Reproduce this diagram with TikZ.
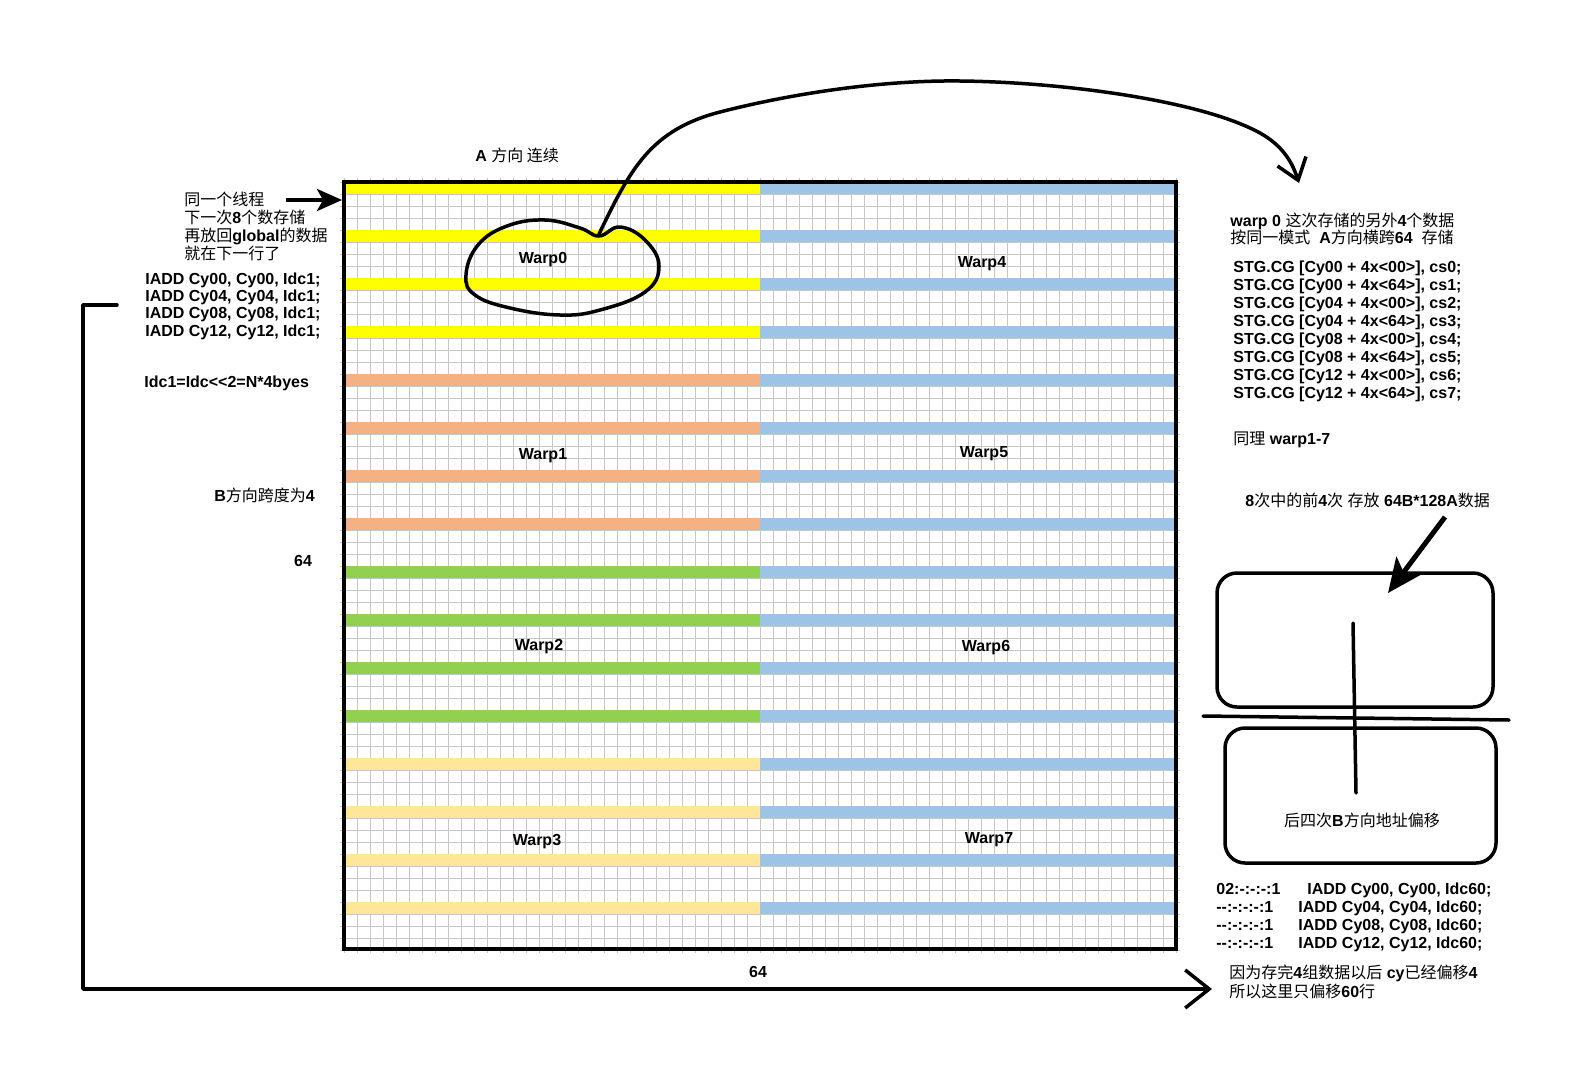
\documentclass[tikz,border=0pt]{standalone}
\usepackage{fontspec}
\setmainfont{Liberation Sans}[Ligatures=TeXOff]
\newfontfamily\cjk{Noto Sans CJK SC}
\newcommand\zh[1]{{\cjk\mdseries #1}}
\usetikzlibrary{arrows.meta,positioning}

\definecolor{warpyellow}{HTML}{FFFF00}
\definecolor{warpsalmon}{HTML}{F4B183}
\definecolor{warpgreen}{HTML}{92D050}
\definecolor{warpcream}{HTML}{FFE699}
\definecolor{warpblue}{HTML}{9DC3E6}
\definecolor{gridgray}{HTML}{C6C6C6}

\tikzset{
  txt/.style={font=\bfseries\fontsize{8}{9}\selectfont, inner sep=0pt, anchor=base west, align=left},
  warp/.style={font=\bfseries\fontsize{8}{9}\selectfont, inner sep=0pt, anchor=base},
  gridline/.style={draw=gridgray, line width=0.5pt},
  pen/.style={line width=1.75pt, line cap=round, line join=round},
  slot/.style={draw, pen, rounded corners=10pt, inner sep=0pt},
}

\begin{document}
\begin{tikzpicture}[x=0.5pt,y=-0.5pt]
\useasboundingbox (0,0) rectangle (1590,1087);

% 64 x 64 tile
\foreach \i in {0,...,64}
  \draw[gridline] ({344+13*\i},178) -- ({344+13*\i},953);
\foreach \j in {0,...,64}
  \draw[gridline] (340,{182+12*\j}) -- (1180,{182+12*\j});
\foreach \g/\c in {0/warpyellow,1/warpsalmon,2/warpgreen,3/warpcream}
  \foreach \k in {0,...,3} {
    \pgfmathsetmacro\yy{182+12*(16*\g+4*\k)}
    \fill[\c] (344,\yy) rectangle (760,{\yy+12});
    \fill[warpblue] (760,\yy) rectangle (1176,{\yy+12});
  }
\draw[line width=1.7pt] (344,182) rectangle (1176,949);

\node[warp] (warp0) at (543,263) {Warp0};
\node[warp] (warp4) at (982,267) {Warp4};
\node[warp] (warp1) at (543,459) {Warp1};
\node[warp] (warp5) at (984,457) {Warp5};
\node[warp] (warp2) at (539,650) {Warp2};
\node[warp] (warp6) at (986,651) {Warp6};
\node[warp] (warp3) at (537,845) {Warp3};
\node[warp] (warp7) at (989,843) {Warp7};

% left side
\node[txt] (adir) at (475,161) {A \zh{方向 连续}};
\node[txt] (thread) at (184,259) {\zh{同一个线程}\\\zh{下一次}8\zh{个数存储}\\\zh{再放回}global\zh{的数据}\\\zh{就在下一行了}};
\node[txt, font=\bfseries\fontsize{8}{8.65}\selectfont] (iadd) at (145,336)
  {IADD Cy00, Cy00, Idc1;\\IADD Cy04, Cy04, Idc1;\\IADD Cy08, Cy08, Idc1;\\IADD Cy12, Cy12, Idc1;};
\node[txt] (ldc) at (144,387) {Idc1=Idc<<2=N*4byes};
\node[txt] (bstride) at (214,501) {B\zh{方向跨度为}4};
\node[warp] (bsize) at (303,566) {64};
\node[warp] (asize) at (758,977) {64};

% right side
\node[txt, font=\bfseries\fontsize{8}{8.5}\selectfont] (other) at (1230,243)
  {warp 0 \zh{这次存储的另外}4\zh{个数据}\\\zh{按同一模式}\ \ A\zh{方向横跨}64\ \ \zh{存储}};
\node[txt, font=\bfseries\fontsize{8}{8.95}\selectfont] (stg) at (1233,398)
  {STG.CG [Cy00 + 4x<00>], cs0;\\STG.CG [Cy00 + 4x<64>], cs1;\\STG.CG [Cy04 + 4x<00>], cs2;\\STG.CG [Cy04 + 4x<64>], cs3;\\STG.CG [Cy08 + 4x<00>], cs4;\\STG.CG [Cy08 + 4x<64>], cs5;\\STG.CG [Cy12 + 4x<00>], cs6;\\STG.CG [Cy12 + 4x<64>], cs7;};
\node[txt] (same) at (1233,444) {\zh{同理} warp1-7};
\node[txt] (first4) at (1245,506) {8\zh{次中的前}4\zh{次} \zh{存放} 64B*128A\zh{数据}};

\node[slot, minimum width=138pt, minimum height=67pt] (upper) at (1355,640) {};
\node[slot, minimum width=135.5pt, minimum height=67.5pt] (lower) at (1360.5,795.5) {};
\node[warp] (last4) at (1362,826) {\zh{后四次}B\zh{方向地址偏移}};
\draw[pen] (1203,716) -- (1509,720);
\draw[pen] (1353,623) -- (1356,793);

\node[txt] (ctrl) at (1216,948) {02:-:-:-:1\\--:-:-:-:1\\--:-:-:-:1\\--:-:-:-:1};
\node[txt] (iadd60) at (1298,948)
  {\hspace*{4.5pt}IADD Cy00, Cy00, Idc60;\\IADD Cy04, Cy04, Idc60;\\IADD Cy08, Cy08, Idc60;\\IADD Cy12, Cy12, Idc60;};
\node[txt, font=\bfseries\fontsize{8}{7}\selectfont] (why) at (1229,997)
  {\zh{因为存完}4\zh{组数据以后} cy\zh{已经偏移}4\\\zh{所以这里只偏移}60\zh{行}};

% arrows
\coordinate (threadtail) at (286,200);
\coordinate (rowone) at (342,200);
\draw[line width=2pt, -{Stealth[length=12.5pt,width=11pt,inset=3pt]}] (threadtail) -- (rowone);

\coordinate (firsttail) at (1445,517);
\coordinate (firsttip) at (1388,593);
\draw[line width=2.5pt, -{Stealth[length=17pt,width=15pt,inset=4pt]}] (firsttail) -- (firsttip);

\draw[pen] plot[smooth cycle, tension=0.7] coordinates {(599,236) (620,227) (645,240) (659,266) (645,292) (600,310) (560,315) (510,308) (475,295) (466,275) (478,245) (507,226) (545,220) (580,228)};
\coordinate (arcstart) at (599,234);
\coordinate (arcend) at (1299,183);
\draw[pen, -{Straight Barb[length=10pt,width=15pt]}] (arcstart) .. controls (630,170) and (650,130) .. (720,112)
  .. controls (790,94) and (880,80) .. (960,81)
  .. controls (1060,82) and (1200,100) .. (1260,133)
  .. controls (1285,147) and (1293,165) .. (arcend);

\coordinate (loopstub) at (117,305);
\coordinate (loopend) at (1212,989);
\draw[pen, -{Straight Barb[length=12pt,width=19pt]}] (loopstub) -- (83,305) |- (loopend);
\end{tikzpicture}
\end{document}
